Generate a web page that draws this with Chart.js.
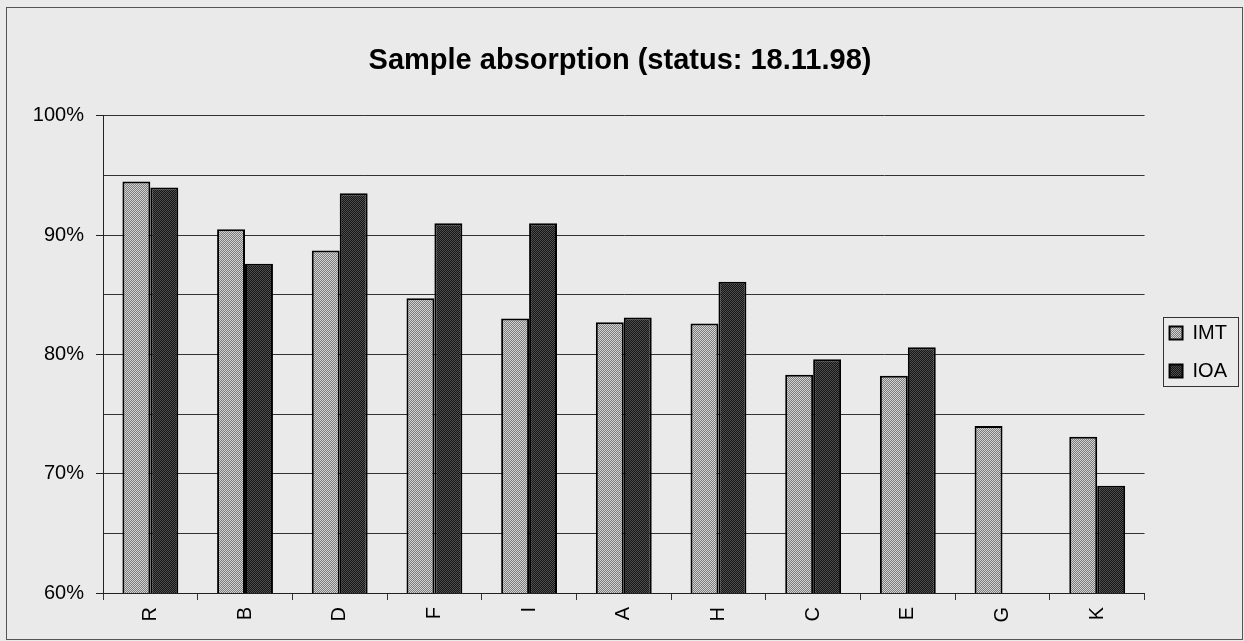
<!DOCTYPE html>
<html>
<head>
<meta charset="utf-8">
<script src="https://cdn.jsdelivr.net/npm/chart.js@4"></script>
<style>
  html, body { margin: 0; padding: 0; background: #eaeaea; }
  #chart { display: block; }
</style>
</head>
<body>
<canvas id="chart" width="1244" height="641"></canvas>
<script>
const categories = ["R", "B", "D", "F", "I", "A", "H", "C", "E", "G", "K"];
const imtValues = [94.5, 90.5, 88.7, 84.7, 83.0, 82.7, 82.6, 78.3, 78.2, 74.0, 73.1];
const ioaValues = [94.0, 87.6, 93.5, 91.0, 91.0, 83.1, 86.1, 79.6, 80.6, null, 69.0];
const seriesNames = ["IMT", "IOA"];
const yTicks = [60, 70, 80, 90, 100];

// little 2x2 checker so the bars look dithered like the scan
const checker = (a, b) => {
  const c = document.createElement("canvas");
  c.width = 2; c.height = 2;
  const g = c.getContext("2d");
  g.fillStyle = a; g.fillRect(0, 0, 2, 2);
  g.fillStyle = b; g.fillRect(0, 0, 1, 1); g.fillRect(1, 1, 1, 1);
  return g.createPattern(c, "repeat");
};

const frame = {
  id: "frame",
  beforeDraw(chart) {
    const ctx = chart.ctx;
    ctx.save();
    ctx.fillStyle = "#eaeaea";
    ctx.fillRect(0, 0, chart.width, chart.height);
    ctx.strokeStyle = "#555";
    ctx.lineWidth = 1;
    ctx.strokeRect(6.5, 7.5, chart.width - 8, chart.height - 9);
    ctx.restore();
  },
  afterLayout(chart) {
    // nudge legend to where the old one sits
    const lg = chart.legend;
    lg.left += 7; lg.right += 7;
    lg.top = 305; lg.bottom = 505;
  },
  afterDraw(chart) {
    const lg = chart.legend;
    const pad = lg.options.labels.padding;
    const ctx = chart.ctx;
    ctx.save();
    ctx.strokeStyle = "#333";
    ctx.lineWidth = 1;
    ctx.strokeRect(Math.round(lg.left + pad - 7) + 0.5, Math.round(lg.top + pad - 6) + 0.5, 75, 69);
    ctx.restore();
  }
};

const font = "'Liberation Sans', Arial, sans-serif";

new Chart(document.getElementById("chart"), {
  type: "bar",
  data: {
    labels: categories,
    datasets: [
      {
        label: seriesNames[0],
        data: imtValues,
        backgroundColor: checker("#7c7c7c", "#d2d2d2"),
        borderColor: "#000",
        borderWidth: 2,
        borderSkipped: false
      },
      {
        label: seriesNames[1],
        data: ioaValues,
        backgroundColor: checker("#161616", "#4e4e4e"),
        borderColor: "#000",
        borderWidth: 2,
        borderSkipped: false
      }
    ]
  },
  options: {
    responsive: false,
    animation: false,
    layout: { padding: { top: 10, left: 10, right: 14, bottom: 0 } },
    datasets: { bar: { categoryPercentage: 0.59, barPercentage: 1 } },
    plugins: {
      title: {
        display: true,
        text: "Sample absorption (status: 18.11.98)",
        color: "#000",
        font: { family: font, size: 29, weight: "bold" },
        padding: { top: 34, bottom: 37 }
      },
      legend: {
        position: "right",
        align: "start",
        maxWidth: 86,
        labels: {
          color: "#000",
          font: { family: font, size: 20 },
          boxWidth: 13,
          boxHeight: 13,
          padding: 18
        }
      },
      tooltip: { enabled: false }
    },
    scales: {
      x: {
        grid: {
          offset: true,
          drawOnChartArea: false,
          tickLength: 7,
          tickColor: "#333"
        },
        border: { color: "#222", width: 1 },
        ticks: {
          color: "#000",
          font: { family: font, size: 20 },
          minRotation: 90,
          maxRotation: 90,
          padding: 7
        },
        afterFit(scale) { scale.height = 48; }
      },
      y: {
        min: 60,
        max: 100,
        grid: {
          color: "#333",
          lineWidth: 1,
          tickLength: 7,
          tickColor: (c) => yTicks.includes(c.tick.value) ? "#222" : "rgba(0,0,0,0)"
        },
        border: { color: "#222", width: 1 },
        ticks: {
          stepSize: 5,
          autoSkip: false,
          color: "#000",
          padding: 12,
          font: { family: font, size: 20 },
          callback: (v) => yTicks.includes(v) ? v + "%" : ""
        },
        afterFit(scale) { scale.width = 93; }
      }
    }
  },
  plugins: [frame]
});
</script>
</body>
</html>
